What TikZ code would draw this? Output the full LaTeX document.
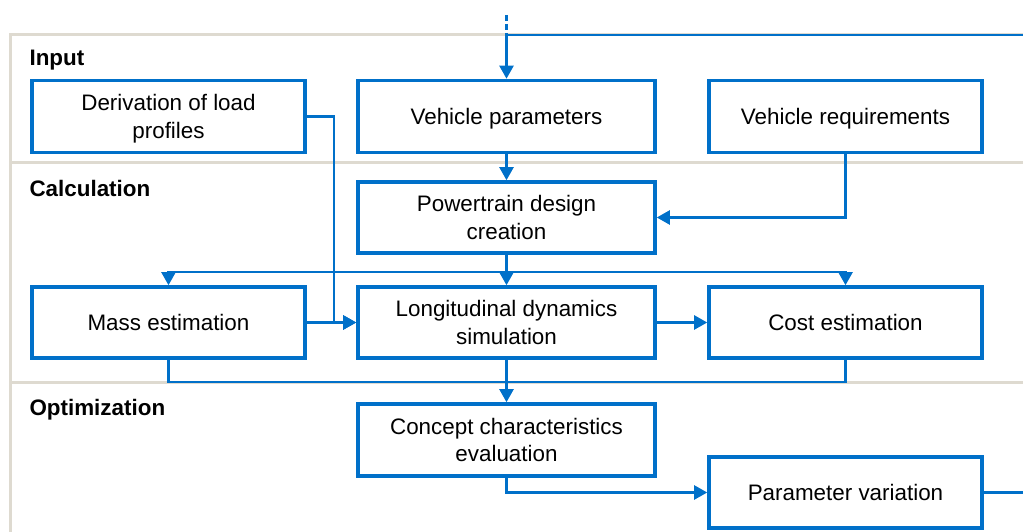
\documentclass[tikz,border=0pt]{standalone}
\usepackage{fontspec}
\setmainfont{Liberation Sans}
\usetikzlibrary{arrows.meta}

\definecolor{flowblue}{RGB}{0,112,201}
\definecolor{lanegray}{RGB}{222,218,208}

\begin{document}
\begin{tikzpicture}[x=1pt, y=1pt,
  every node/.style={font=\fontsize{22.4}{27.5}\selectfont},
  box/.style={draw=flowblue, line width=3.6pt, fill=white, inner sep=0pt, align=center,
    text depth=0pt},
  wide/.style={box, minimum width=297pt, minimum height=72pt},
  narrow/.style={box, minimum width=273pt, minimum height=72pt},
  flow/.style={draw=flowblue, line width=2.4pt, -{Triangle[length=13pt, width=14pt]}},
  link/.style={draw=flowblue, line width=2.4pt},
  lane/.style={draw=lanegray, line width=3pt},
  lanename/.style={anchor=west, font=\fontsize{22.4}{27.5}\selectfont\bfseries}]
\useasboundingbox (0, 0) rectangle (1023, 532);

% lanes
\draw [lane] (10, 0) -- (10, 497) -- (1023, 497);
\draw [lane] (10, 369) -- (1023, 369);
\draw [lane] (10, 149) -- (1023, 149);
\node [lanename] (input) at (26, 472) {Input};
\node [lanename] (calc) at (26, 343) {Calculation};
\node [lanename] (optim) at (26, 122) {Optimization};

% boxes
\node [narrow] (deriv) at (168.5, 415.5) {Derivation of load\\profiles};
\node [wide] (vpar) at (506.5, 415.5) {Vehicle parameters};
\node [narrow] (vreq) at (845.5, 415.5) {Vehicle requirements};
\node [wide, minimum height=71pt] (ptd) at (506.5, 314.5) {Powertrain design\\creation};
\node [narrow, minimum height=71pt] (mass) at (168.5, 209.5) {Mass estimation};
\node [wide, minimum height=71pt] (long) at (506.5, 209.5) {Longitudinal dynamics\\simulation};
\node [narrow, minimum height=71pt] (cost) at (845.5, 209.5) {Cost estimation};
\node [wide] (concept) at (506.5, 92) {Concept characteristics\\evaluation};
\node [narrow, minimum height=71pt] (pvar) at (845.5, 39.5) {Parameter variation};

% connectors
\coordinate (loopin) at (1023, 497);
\coordinate (loopout) at (1023, 39.5);
\draw [link, dash pattern=on 6pt off 3pt] (506.5, 517) -- (506.5, 497);
\draw [flow] (loopin) -| (vpar.north);
\draw [flow] (vpar.south) -- (ptd.north);
\draw [flow] (vreq.south) |- (ptd.east);
\draw [flow] (ptd.south) -- (long.north);
\draw [link] (ptd.south) -- ++(0, -17) coordinate (split);
\draw [flow] (split) -| (mass.north);
\draw [flow] (split) -| (cost.north);
\draw [flow] (deriv.east) -- ++(27, 0) |- (long.west);
\draw [flow] (mass.east) -- (long.west);
\draw [flow] (long.east) -- (cost.west);
\draw [link] (mass.south) -- ++(0, -22) coordinate (join) -| (cost.south);
\draw [flow] (long.south) -- (concept.north);
\draw [flow] (concept.south) |- (pvar.west);
\draw [link] (pvar.east) -- (loopout);
\end{tikzpicture}
\end{document}
